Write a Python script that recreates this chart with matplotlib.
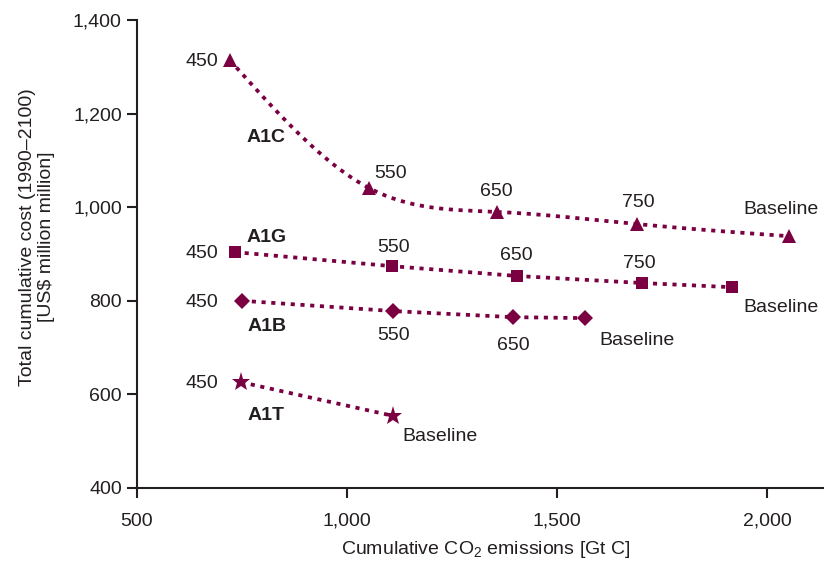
import numpy as np
import matplotlib
matplotlib.use("Agg")
import matplotlib.pyplot as plt
from matplotlib.ticker import FuncFormatter

plt.rcParams['font.family'] = ['Liberation Sans', 'DejaVu Sans']
plt.rcParams['mathtext.fontset'] = 'custom'
plt.rcParams['mathtext.rm'] = 'Liberation Sans'
plt.rcParams['mathtext.it'] = 'Liberation Sans:italic'

# Cumulative CO2 emissions (Gt C) and total cumulative cost per scenario
a1c_emis = [721, 1052, 1357, 1690, 2052]
a1c_cost = [1314, 1041, 990, 964, 938]
a1c_labels = ['450', '550', '650', '750', 'Baseline']

a1g_emis = [733, 1107, 1405, 1702, 1917]
a1g_cost = [904, 874, 853, 838, 829]
a1g_labels = ['450', '550', '650', '750', 'Baseline']

a1b_emis = [750, 1110, 1395, 1567]
a1b_cost = [800, 778, 765, 763]
a1b_labels = ['450', '550', '650', 'Baseline']

a1t_emis = [748, 1110]
a1t_cost = [626, 554]
a1t_labels = ['450', 'Baseline']

x_ticks = [500, 1000, 1500, 2000]
y_ticks = [400, 600, 800, 1000, 1200, 1400]

COLOR = '#7A0042'
TEXT = '#231F20'
FS = 14

fig = plt.figure(figsize=(8.24, 5.62), dpi=100)
ax = fig.add_axes([0.1663, 0.1317, 0.8337, 0.8327])
ax.set_xlim(500, 2135)
ax.set_ylim(400, 1400)


def natural_spline(xs, ys, n=60):
    """Natural cubic spline y(x) through the points."""
    x = np.asarray(xs, float)
    y = np.asarray(ys, float)
    k = len(x)
    if k < 3:
        return x, y
    h = np.diff(x)
    A = np.zeros((k, k))
    b = np.zeros(k)
    A[0, 0] = A[-1, -1] = 1.0
    for i in range(1, k - 1):
        A[i, i - 1] = h[i - 1]
        A[i, i] = 2 * (h[i - 1] + h[i])
        A[i, i + 1] = h[i]
        b[i] = 6 * ((y[i + 1] - y[i]) / h[i] - (y[i] - y[i - 1]) / h[i - 1])
    m = np.linalg.solve(A, b)
    px, py = [], []
    for i in range(k - 1):
        t = np.linspace(x[i], x[i + 1], n)
        a = x[i + 1] - t
        c = t - x[i]
        s = (m[i] * a ** 3 / (6 * h[i]) + m[i + 1] * c ** 3 / (6 * h[i])
             + (y[i] / h[i] - m[i] * h[i] / 6) * a
             + (y[i + 1] / h[i] - m[i + 1] * h[i] / 6) * c)
        px.append(t if i == 0 else t[1:])
        py.append(s if i == 0 else s[1:])
    return np.concatenate(px), np.concatenate(py)


series = [
    ('A1C', a1c_emis, a1c_cost, a1c_labels, '^', 10.5,
     (17, -77), [(-12, -1, 'right'), (22, 15, 'center'), (-1, 20, 'center'),
                 (1, 22, 'center'), (-8, 27, 'center')], True),
    ('A1G', a1g_emis, a1g_cost, a1g_labels, 's', 8.5,
     (12, 15), [(-17, -1, 'right'), (1, 19, 'center'), (-1, 20, 'center'),
                (-3, 20, 'center'), (49, -20, 'center')], False),
    ('A1B', a1b_emis, a1b_cost, a1b_labels, 'D', 8.5,
     (5, -26), [(-24, -2, 'right'), (0, -24, 'center'), (0, -28, 'center'),
                (14, -22, 'left')], False),
    ('A1T', a1t_emis, a1t_cost, a1t_labels, '*', 14,
     (6, -33), [(-23, -1, 'right'), (9, -21, 'left')], False),
]

for name, xs, ys, labels, marker, ms, name_off, lab_offs, curved in series:
    if curved:
        lx, ly = natural_spline(xs, ys)
    else:
        lx, ly = xs, ys
    ax.plot(lx, ly, color=COLOR, lw=2.7, linestyle=(0, (1.1, 1.5)),
            dash_capstyle='butt', zorder=2)
    ax.plot(xs, ys, linestyle='none', marker=marker, ms=ms, color=COLOR,
            markeredgewidth=0, zorder=3)
    ax.annotate(name, (xs[0], ys[0]), xytext=name_off, textcoords='offset pixels',
                ha='left', va='center', fontsize=FS, fontweight='bold', color=TEXT)
    for x, y, lab, (dx, dy, ha) in zip(xs, ys, labels, lab_offs):
        ax.annotate(lab, (x, y), xytext=(dx, dy), textcoords='offset pixels',
                    ha=ha, va='center', fontsize=FS, color=TEXT)

ax.set_xticks(x_ticks)
ax.set_yticks(y_ticks)
fmt = FuncFormatter(lambda v, _: f'{int(v):,}')
ax.xaxis.set_major_formatter(fmt)
ax.yaxis.set_major_formatter(fmt)
ax.tick_params(direction='out', length=7, width=1.5, labelsize=FS,
               colors=TEXT)
ax.tick_params(axis='x', pad=11)
ax.tick_params(axis='y', pad=4)

for side in ('top', 'right'):
    ax.spines[side].set_visible(False)
for side in ('left', 'bottom'):
    ax.spines[side].set_linewidth(1.5)
    ax.spines[side].set_color(TEXT)

fig.text(486 / 824, 1 - 550 / 562, 'Cumulative CO$_2$ emissions [Gt C]',
         ha='center', va='center', fontsize=FS, color=TEXT)
fig.text(37 / 824, 1 - 237 / 562,
         'Total cumulative cost (1990\u20132100)\n[US$ million million]',
         ha='center', va='center', rotation=90, fontsize=FS, color=TEXT,
         linespacing=1.15, multialignment='center')

fig.savefig('out.png', dpi=100)
